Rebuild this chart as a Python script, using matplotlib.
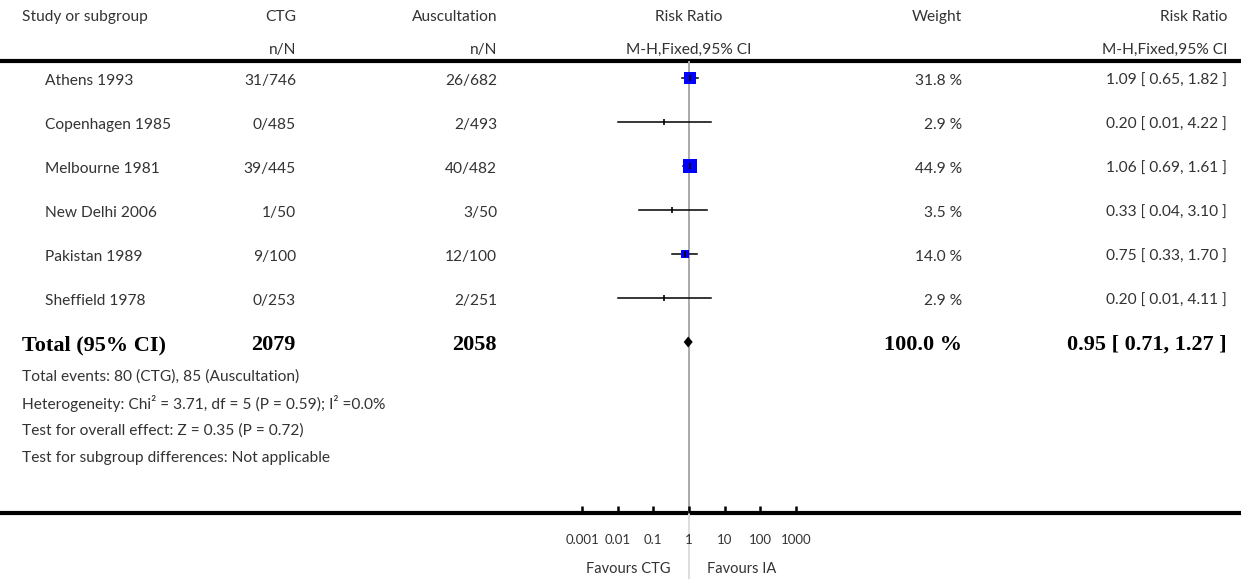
import numpy as np
import matplotlib
matplotlib.use('Agg')
import matplotlib.pyplot as plt

# data
studies = ['Athens 1993', 'Copenhagen 1985', 'Melbourne 1981', 'New Delhi 2006', 'Pakistan 1989', 'Sheffield 1978']
ctg = ['31/746', '0/485', '39/445', '1/50', '9/100', '0/253']
ausc = ['26/682', '2/493', '40/482', '3/50', '12/100', '2/251']
rr = [1.09, 0.20, 1.06, 0.33, 0.75, 0.20]
ci_lo = [0.65, 0.01, 0.69, 0.04, 0.33, 0.01]
ci_hi = [1.82, 4.22, 1.61, 3.10, 1.70, 4.11]
weight = [31.8, 2.9, 44.9, 3.5, 14.0, 2.9]
total_rr, total_lo, total_hi = 0.95, 0.71, 1.27
total_ctg, total_ausc, total_w = 2079, 2058, 100.0
footnotes = ['Total events: 80 (CTG), 85 (Auscultation)',
             'Heterogeneity: Chi\u00b2 = 3.71, df = 5 (P = 0.59); I\u00b2 =0.0%',
             'Test for overall effect: Z = 0.35 (P = 0.72)',
             'Test for subgroup differences: Not applicable']
ticks = [0.001, 0.01, 0.1, 1, 10, 100, 1000]
tick_labels = ['0.001', '0.01', '0.1', '1', '10', '100', '1000']

W, H = 1241, 579
txt = '#333333'
plt.rcParams['font.family'] = ['Lato', 'DejaVu Sans']
fs = 11.2

fig = plt.figure(figsize=(W / 100, H / 100), dpi=100)
# text layer in pixel coords
ax = fig.add_axes([0, 0, 1, 1])
ax.set_xlim(0, W)
ax.set_ylim(H, 0)
ax.axis('off')

# forest layer: log x, 1 sits at x=689, one decade = 35.65 px
x1, dec = 689, 35.65
fx = fig.add_axes([0, 0, 1, 1])
fx.set_xscale('log')
fx.set_xlim(10 ** ((0 - x1) / dec), 10 ** ((W - x1) / dec))
fx.set_ylim(H, 0)
fx.axis('off')
fx.patch.set_visible(False)

top_y, bot_y = 61, 512.5
row0, step = 78, 44
rows = [row0 + step * i for i in range(len(studies))]
tot_y = row0 + step * len(studies)

# header
ax.text(22, 17, 'Study or subgroup', fontsize=fs, color=txt, va='center')
ax.text(296, 17, 'CTG', fontsize=fs, color=txt, va='center', ha='right')
ax.text(497, 17, 'Auscultation', fontsize=fs, color=txt, va='center', ha='right')
ax.text(x1, 17, 'Risk Ratio', fontsize=fs, color=txt, va='center', ha='center')
ax.text(962, 17, 'Weight', fontsize=fs, color=txt, va='center', ha='right')
ax.text(1227, 17, 'Risk Ratio', fontsize=fs, color=txt, va='center', ha='right')
ax.text(296, 50, 'n/N', fontsize=fs, color=txt, va='center', ha='right')
ax.text(497, 50, 'n/N', fontsize=fs, color=txt, va='center', ha='right')
ax.text(x1, 50, 'M-H,Fixed,95% CI', fontsize=fs, color=txt, va='center', ha='center')
ax.text(1227, 50, 'M-H,Fixed,95% CI', fontsize=fs, color=txt, va='center', ha='right')

ax.axhline(top_y, color='black', lw=3)
ax.axhline(bot_y, color='black', lw=3)

# reference line at RR = 1
fx.vlines(1, top_y, bot_y, color='#aaaaaa', lw=1.4, zorder=1)
fx.vlines(1, bot_y, H, color='#dddddd', lw=1.4, zorder=1)

# studies
for i, y in enumerate(rows):
    ty = y + 3
    ax.text(45, ty, studies[i], fontsize=fs, color=txt, va='center')
    ax.text(296, ty, ctg[i], fontsize=fs, color=txt, va='center', ha='right')
    ax.text(497, ty, ausc[i], fontsize=fs, color=txt, va='center', ha='right')
    ax.text(962, ty, f'{weight[i]:.1f} %', fontsize=fs, color=txt, va='center', ha='right')
    ax.text(1227, ty, f'{rr[i]:.2f} [ {ci_lo[i]:.2f}, {ci_hi[i]:.2f} ]', fontsize=fs,
            color=txt, va='center', ha='right')
    fx.plot([ci_lo[i], ci_hi[i]], [y, y], color='black', lw=1.1, zorder=2)
    side = 2.0 * np.sqrt(weight[i])  # px
    if side > 4:  # tiny boxes vanish under the tick in the original
        fx.plot(rr[i], y, marker='s', color='#0000ff', ms=side * 0.72, mew=0, zorder=3)
    fx.plot(rr[i], y, marker='|', color='black', ms=4, mew=1.2, zorder=4)

# total
bf = dict(family=['Liberation Serif', 'DejaVu Serif'], fontsize=16, fontweight='bold', color='black', va='center')
ty = tot_y + 3
ax.text(22, ty, 'Total (95% CI)', **bf)
ax.text(296, ty, str(total_ctg), ha='right', **bf)
ax.text(497, ty, str(total_ausc), ha='right', **bf)
ax.text(962, ty, f'{total_w:.1f} %', ha='right', **bf)
ax.text(1227, ty, f'{total_rr:.2f} [ {total_lo:.2f}, {total_hi:.2f} ]', ha='right', **bf)
fx.fill([total_lo, total_rr, total_hi, total_rr], [tot_y, tot_y - 5.5, tot_y, tot_y + 5.5],
        color='black', lw=0, zorder=3)

for k, line in enumerate(footnotes):
    ax.text(22, 377 + 27 * k, line, fontsize=fs, color=txt, va='center')

# axis ticks and labels
fx.vlines(ticks, bot_y - 7, bot_y, color='black', lw=1.8)
for t, lab in zip(ticks, tick_labels):
    fx.text(t, 540, lab, fontsize=9.5, color=txt, ha='center', va='center')
fx.text(0.31, 569, 'Favours CTG', fontsize=10.5, color=txt, ha='right', va='center')
fx.text(3.2, 569, 'Favours IA', fontsize=10.5, color=txt, ha='left', va='center')

fig.savefig('out.png', dpi=100)
